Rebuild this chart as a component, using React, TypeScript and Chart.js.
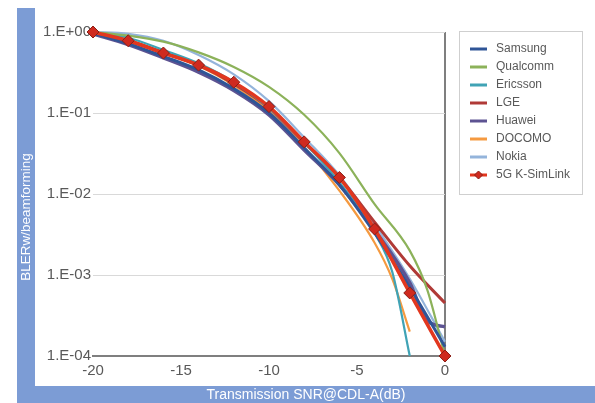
import React, { useEffect, useRef } from 'react';
import { Chart, registerables } from 'chart.js';

Chart.register(...registerables);

// ---- data ----
const SNR_FULL = [-20, -18, -16, -14, -12, -10, -8, -6, -4, -2, 0];
const SNR_QUALCOMM = [-20, -18, -16, -14, -12, -10, -8, -6, -4, -2, -1, 0];
const SNR_ERICSSON = [-20, -18, -16, -14, -12, -10, -8, -6, -4, -3, -2];
const SNR_HUAWEI = [-20, -18, -16, -14, -12, -10, -8, -6, -4, -2, -1, 0];
const SNR_DOCOMO = [-20, -18, -16, -14, -12, -10, -8, -6, -4, -3, -2];

const BLER_SAMSUNG = [0.97, 0.72, 0.5, 0.34, 0.2, 0.1, 0.037, 0.013, 0.0033, 0.0007, 0.00013];
const BLER_QUALCOMM = [1.0, 0.9, 0.76, 0.56, 0.37, 0.21, 0.095, 0.032, 0.0075, 0.002, 0.00065, 0.0001];
const BLER_ERICSSON = [1.0, 0.85, 0.6, 0.41, 0.24, 0.115, 0.043, 0.014, 0.0033, 0.0011, 0.0001];
const BLER_LGE = [1.0, 0.78, 0.56, 0.39, 0.23, 0.115, 0.043, 0.016, 0.0045, 0.0013, 0.00045];
const BLER_HUAWEI = [0.95, 0.7, 0.48, 0.32, 0.19, 0.095, 0.035, 0.013, 0.0036, 0.0008, 0.00027, 0.00023];
const BLER_DOCOMO = [1.0, 0.8, 0.56, 0.38, 0.22, 0.105, 0.038, 0.011, 0.0025, 0.0009, 0.0002];
const BLER_NOKIA = [1.0, 0.95, 0.78, 0.52, 0.3, 0.14, 0.05, 0.017, 0.0042, 0.0009, 0.00015];
const BLER_SIMLINK = [1.0, 0.78, 0.55, 0.39, 0.24, 0.12, 0.044, 0.016, 0.0037, 0.0006, 0.0001];

const SERIES_NAMES = ['Samsung', 'Qualcomm', 'Ericsson', 'LGE', 'Huawei', 'DOCOMO', 'Nokia', '5G K-SimLink'];
const Y_TICKS = [0.0001, 0.001, 0.01, 0.1, 1];
const X_TITLE = 'Transmission SNR@CDL-A(dB)';
const Y_TITLE = 'BLERw/beamforming';

// ---- styles ----
const COLORS = ['#2f5597', '#8cb25a', '#40a3b5', '#b03a37', '#5d5392', '#f59a40', '#94b4db', '#e2371f'];
const WIDTHS = [3, 2.2, 2.2, 3, 3.5, 2.2, 2.2, 3.5];
const FRAME_COLOR = '#7c9cd5';
const FONT = '"Liberation Sans", Arial, sans-serif';
const ICON_MARGIN = 19;

function zip(xs: number[], ys: number[]) {
  return xs.map((x, i) => ({ x, y: ys[i] }));
}

function fmtExp(v: number) {
  const e = Math.round(Math.log10(v));
  return '1.E' + (e < 0 ? '-' : '+') + String(Math.abs(e)).padStart(2, '0');
}

function makeIcon(color: string, marker: boolean) {
  const c = document.createElement('canvas');
  c.width = ICON_MARGIN + 20;
  c.height = 12;
  const ctx = c.getContext('2d')!;
  ctx.strokeStyle = color;
  ctx.lineWidth = 3;
  ctx.beginPath();
  ctx.moveTo(ICON_MARGIN, 6);
  ctx.lineTo(ICON_MARGIN + 17, 6);
  ctx.stroke();
  if (marker) {
    const cx = ICON_MARGIN + 8.5;
    ctx.fillStyle = '#cf2a1f';
    ctx.strokeStyle = '#8a1f16';
    ctx.lineWidth = 1;
    ctx.beginPath();
    ctx.moveTo(cx, 2);
    ctx.lineTo(cx + 4, 6);
    ctx.lineTo(cx, 10);
    ctx.lineTo(cx - 4, 6);
    ctx.closePath();
    ctx.fill();
    ctx.stroke();
  }
  return c;
}

const framePlugin = {
  id: 'frame',
  beforeDraw(chart: any) {
    const ctx = chart.ctx;
    ctx.save();
    ctx.fillStyle = FRAME_COLOR;
    ctx.fillRect(17, 8, 18, 395);
    ctx.fillRect(17, 386, 578, 17);
    ctx.fillStyle = '#ffffff';
    ctx.textAlign = 'center';
    ctx.textBaseline = 'middle';
    ctx.font = '14px ' + FONT;
    ctx.fillText(X_TITLE, 306, 395);
    ctx.translate(26.5, 217);
    ctx.rotate(-Math.PI / 2);
    ctx.font = '13.5px ' + FONT;
    ctx.fillText(Y_TITLE, 0, 0);
    ctx.restore();

    const lg = chart.legend;
    if (lg && lg.legendHitBoxes && lg.legendHitBoxes.length) {
      const hb = lg.legendHitBoxes;
      const x0 = hb[0].left + ICON_MARGIN - 11;
      const y0 = hb[0].top - 12;
      const last = hb[hb.length - 1];
      const y1 = last.top + last.height + 13;
      ctx.save();
      ctx.strokeStyle = '#cfcfcf';
      ctx.lineWidth = 1;
      ctx.strokeRect(Math.round(x0) + 0.5, Math.round(y0) + 0.5, 123, Math.round(y1 - y0));
      ctx.restore();
    }
  },
};

export default function App() {
  const ref = useRef<HTMLCanvasElement | null>(null);

  useEffect(() => {
    if (!ref.current) return;
    const xs = [SNR_FULL, SNR_QUALCOMM, SNR_ERICSSON, SNR_FULL, SNR_HUAWEI, SNR_DOCOMO, SNR_FULL, SNR_FULL];
    const ys = [BLER_SAMSUNG, BLER_QUALCOMM, BLER_ERICSSON, BLER_LGE, BLER_HUAWEI, BLER_DOCOMO, BLER_NOKIA, BLER_SIMLINK];
    const icons = SERIES_NAMES.map((_, i) => makeIcon(COLORS[i], i === 7));

    const datasets = SERIES_NAMES.map((name, i) => {
      const isSim = i === 7;
      return {
        label: name,
        data: zip(xs[i], ys[i]),
        borderColor: COLORS[i],
        backgroundColor: COLORS[i],
        borderWidth: WIDTHS[i],
        cubicInterpolationMode: 'monotone' as const,
        pointRadius: isSim ? 6 : 0,
        pointHoverRadius: isSim ? 6 : 0,
        pointStyle: 'rectRot' as const,
        pointBackgroundColor: '#cf2a1f',
        pointBorderColor: '#8a1f16',
        pointBorderWidth: 1,
        clip: false as const,
        order: isSim ? -1 : i,
      };
    });

    const chart = new Chart(ref.current, {
      type: 'line',
      data: { datasets },
      options: {
        responsive: false,
        animation: false,
        devicePixelRatio: 1,
        layout: { padding: { left: 36, top: 32, right: 15, bottom: 18 } },
        font: { family: FONT },
        scales: {
          x: {
            type: 'linear',
            min: -20,
            max: 0,
            ticks: { stepSize: 5, color: '#595959', font: { size: 15, family: FONT }, padding: 6 },
            grid: {
              drawTicks: false,
              color: (c: any) => (c.tick && c.tick.value === 0 ? '#7f7f7f' : 'rgba(0,0,0,0)'),
              lineWidth: (c: any) => (c.tick && c.tick.value === 0 ? 2 : 0),
            },
            border: { display: true, color: '#7f7f7f', width: 2 },
            afterFit: (s: any) => { s.height = 29; },
          },
          y: {
            type: 'logarithmic',
            min: 0.0001,
            max: 1,
            afterBuildTicks: (s: any) => { s.ticks = Y_TICKS.map((v) => ({ value: v })); },
            ticks: {
              color: '#595959',
              font: { size: 15, family: FONT },
              padding: 2,
              autoSkip: false,
              callback: (v: any) => fmtExp(Number(v)),
            },
            grid: { drawTicks: false, color: '#d9d9d9', lineWidth: 1 },
            border: { display: false },
            afterFit: (s: any) => { s.width = 57; },
          },
        },
        plugins: {
          tooltip: { enabled: false },
          legend: {
            position: 'right',
            align: 'start',
            title: { display: true, text: '', padding: 0, font: { size: 5, lineHeight: 1 } },
            labels: {
              usePointStyle: true,
              pointStyleWidth: ICON_MARGIN + 20,
              boxHeight: 12,
              padding: 6,
              color: '#595959',
              font: { size: 12, family: FONT },
              generateLabels: (ch: any) =>
                ch.data.datasets.map((ds: any, i: number) => ({
                  text: ds.label,
                  pointStyle: icons[i],
                  fillStyle: ds.borderColor,
                  strokeStyle: ds.borderColor,
                  lineWidth: 0,
                  hidden: false,
                  datasetIndex: i,
                  fontColor: '#595959',
                })),
            },
          },
        },
      },
      plugins: [framePlugin],
    } as any);

    return () => chart.destroy();
  }, []);

  return (
    <div style={{ position: 'absolute', left: 0, top: 0, width: 595, height: 403, background: '#ffffff' }}>
      <canvas ref={ref} width={595} height={403} style={{ width: 595, height: 403, display: 'block' }} />
    </div>
  );
}
